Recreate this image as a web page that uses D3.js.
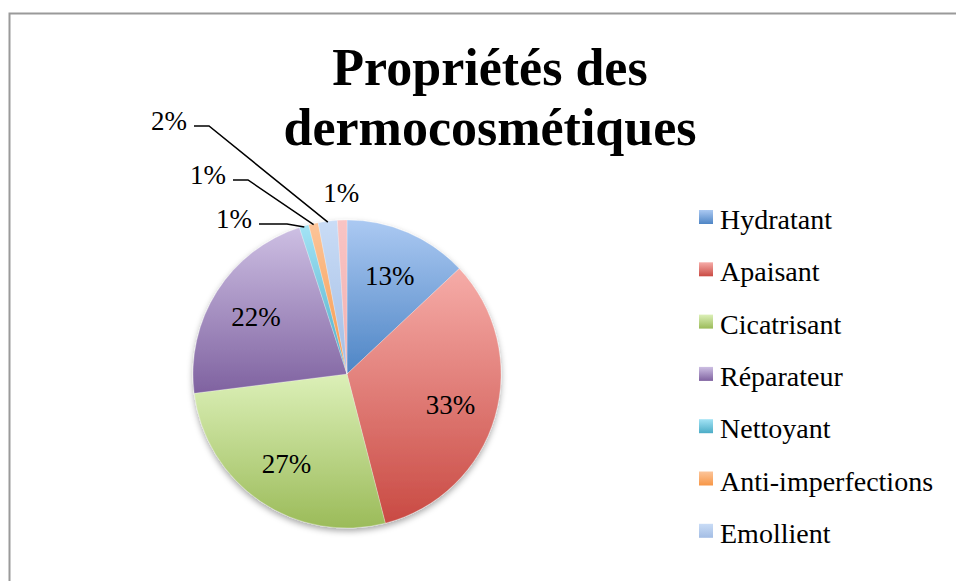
<!DOCTYPE html>
<html>
<head>
<meta charset="utf-8">
<script src="https://cdn.jsdelivr.net/npm/d3@7"></script>
<style>
	body { margin: 0; background: #fff; }
	text { font-family: "Liberation Serif", "DejaVu Serif", serif; fill: #000; }
</style>
</head>
<body>
<svg></svg>
<script>
// chart values
const categories = ["Hydratant", "Apaisant", "Cicatrisant", "Réparateur", "Nettoyant", "Anti-imperfections", "Emollient", "Autre"];
const values = [13, 33, 27, 22, 1, 1, 2, 1];
const legendNames = categories.slice(0, 7); // last slice is not in the visible legend
const titleLines = ["Propriétés des", "dermocosmétiques"];
const topColors = ["#abc9f2", "#f6aca8", "#dcf0b8", "#cdbfe3", "#a3e3f5", "#fcc59a", "#c9dcf6", "#f8c4c4"];
const bottomColors = ["#4e85c5", "#c94a43", "#9bbb59", "#7f62a0", "#4bacc6", "#f79646", "#a3bde4", "#f2b0b0"];

const size = { w: 956, h: 581 };
const center = { x: 347, y: 374 };
const radius = 154;
const svg = d3.select("svg").attr("width", size.w).attr("height", size.h);

// leader labels for the thin slices (offsets from the pie center)
const leaderLayout = [
	{ i: 4, x: -95, y: -150, len: 28 },
	{ i: 5, x: -121, y: -194, len: 15 },
	{ i: 6, x: -160, y: -248, len: 15 },
];

const defs = svg.append("defs");

// one vertical gradient per category
categories.forEach((c, i) => {
	let g = defs.append("linearGradient")
		.attr("id", "grad" + i)
		.attr("x1", 0).attr("y1", 0).attr("x2", 0).attr("y2", 1);
	g.append("stop").attr("offset", "0%").attr("stop-color", topColors[i]);
	g.append("stop").attr("offset", "100%").attr("stop-color", bottomColors[i]);
});

let shadow = defs.append("filter").attr("id", "shadow")
	.attr("x", "-20%").attr("y", "-20%").attr("width", "140%").attr("height", "140%");
shadow.append("feDropShadow")
	.attr("dx", 0).attr("dy", 3).attr("stdDeviation", 3)
	.attr("flood-color", "#000").attr("flood-opacity", 0.35);

// chart area border (runs off the right and bottom of the picture)
svg.append("rect")
	.attr("x", 9.5).attr("y", 13.5)
	.attr("width", size.w).attr("height", size.h)
	.attr("fill", "#fff")
	.attr("stroke", "#9a9a9a")
	.attr("stroke-width", 2);

// --------- TITLE ----------
svg.append("g").selectAll("text")
	.data(titleLines)
	.join("text")
	.attr("x", 490)
	.attr("y", (d, i) => 85 + i * 60)
	.attr("text-anchor", "middle")
	.attr("font-size", 52)
	.attr("font-weight", "bold")
	.text((d) => d);

// --------- PIE ----------
const pie = d3.pie().sort(null).value((d) => d);
const arcs = pie(values);
const arc = d3.arc().innerRadius(0).outerRadius(radius);
const labelArc = d3.arc().innerRadius(radius * 0.7).outerRadius(radius * 0.7);
const outerArc = d3.arc().innerRadius(radius + 28).outerRadius(radius + 28);
const edgeArc = d3.arc().innerRadius(radius - 1).outerRadius(radius - 1);

const pieG = svg.append("g").attr("transform", `translate(${center.x}, ${center.y})`);

pieG.append("g").attr("filter", "url(#shadow)")
	.selectAll("path")
	.data(arcs)
	.join("path")
	.attr("d", arc)
	.attr("fill", (d, i) => `url(#grad${i})`)
	.attr("stroke", "#fff")
	.attr("stroke-opacity", 0.5)
	.attr("stroke-width", 0.5);

const fmt = (v) => v + "%";
const leaderIdx = leaderLayout.map((l) => l.i);

// labels inside the big slices
pieG.append("g").selectAll("text")
	.data(arcs.filter((d) => d.data >= 5))
	.join("text")
	.attr("transform", (d) => `translate(${labelArc.centroid(d)})`)
	.attr("text-anchor", "middle")
	.attr("dy", "0.35em")
	.attr("font-size", 27)
	.text((d) => fmt(d.data));

// small slice without leader line
pieG.append("g").selectAll("text")
	.data(arcs.filter((d, i) => d.data < 5 && !leaderIdx.includes(i)))
	.join("text")
	.attr("transform", (d) => `translate(${outerArc.centroid(d)})`)
	.attr("text-anchor", "middle")
	.attr("dy", "0.35em")
	.attr("font-size", 27)
	.text((d) => fmt(d.data));

// leader lines + labels
const leaderG = pieG.append("g");
leaderLayout.forEach((l) => {
	let d = arcs[l.i];
	let end = edgeArc.centroid(d);
	leaderG.append("path")
		.attr("d", d3.line()([[l.x + 7, l.y], [l.x + 7 + l.len, l.y], end]))
		.attr("fill", "none")
		.attr("stroke", "#000")
		.attr("stroke-width", 1.5);
	leaderG.append("text")
		.attr("x", l.x)
		.attr("y", l.y + 4)
		.attr("text-anchor", "end")
		.attr("font-size", 27)
		.text(fmt(d.data));
});

// --------- LEGEND ----------
const legendG = svg.append("g").attr("transform", "translate(699, 210)");
const legendItem = legendG.selectAll("g")
	.data(legendNames)
	.join("g")
	.attr("transform", (d, i) => `translate(0, ${i * 52.3})`);

legendItem.append("rect")
	.attr("width", 14).attr("height", 14)
	.attr("fill", (d, i) => `url(#grad${i})`);

legendItem.append("text")
	.attr("x", 21)
	.attr("y", 19)
	.attr("font-size", 28)
	.text((d) => d);
</script>
</body>
</html>
